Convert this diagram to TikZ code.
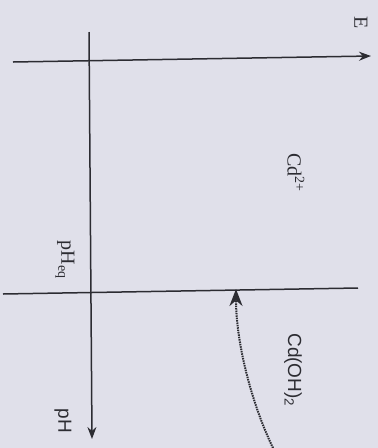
\documentclass[tikz,border=0pt]{standalone}
\usepackage{fontspec}
\setmainfont{Liberation Serif}
\newfontfamily\arialish{Liberation Sans}
\usetikzlibrary{arrows.meta}
\definecolor{bgc}{HTML}{E0E0EA}
\definecolor{ink}{HTML}{2C2C32}
\begin{document}
\begin{tikzpicture}[x=1pt,y=-1pt,
  axis/.style={draw=ink,line width=1.5pt},
  tipped/.style={-{Stealth[length=12pt,width=9pt]}},
  lbl/.style={text=ink,inner sep=0pt,rotate=-90,font=\fontsize{20}{22}\selectfont},
  slbl/.style={lbl,font=\arialish\fontsize{19}{21}\selectfont},
  dotcurve/.style={draw=ink,line width=2pt,dash pattern=on 1.5pt off 0.9pt}]
\fill[bgc] (0,0) rectangle (378,448);
\useasboundingbox (0,0) rectangle (378,448);
% axis end points
\coordinate (Estart) at (13,62);
\coordinate (Eend) at (371,56);
\coordinate (pHstart) at (89,32);
\coordinate (pHend) at (92,439);
\coordinate (Bstart) at (3,294);
\coordinate (Bend) at (358,288);
\coordinate (Cstart) at (273,448);
\coordinate (Ctip) at (236,289);
% axes
\draw[axis,tipped] (Estart) -- (Eend);
\draw[axis,tipped] (pHstart) -- (pHend);
\draw[axis] (Bstart) -- (Bend);
% dotted curved arrow
\draw[dotcurve,-{Stealth[length=17pt,width=13pt,sep=0pt]}] (Cstart) .. controls (250,400) and (236,340) .. (Ctip);
% labels
\node[lbl] (E) at (361,23) {E};
\node[lbl] (cd) at (296,173) {Cd\textsuperscript{2+}};
\node[lbl] (pheq) at (65,260) {pH\textsubscript{eq}};
\node[slbl] (cdoh) at (293,370) {Cd(OH)\textsubscript{2}};
\node[slbl] (ph) at (63,421) {pH};
\end{tikzpicture}
\end{document}
